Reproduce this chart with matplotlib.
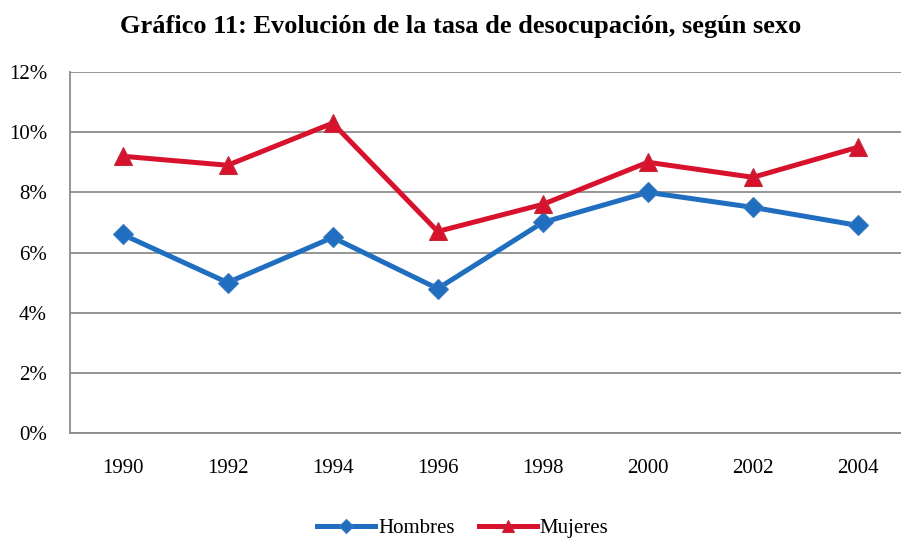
import matplotlib
matplotlib.use("Agg")
import matplotlib.pyplot as plt
from matplotlib.ticker import FuncFormatter

years = ["1990", "1992", "1994", "1996", "1998", "2000", "2002", "2004"]
hombres = [6.6, 5.0, 6.5, 4.8, 7.0, 8.0, 7.5, 6.9]
mujeres = [9.2, 8.9, 10.3, 6.7, 7.6, 9.0, 8.5, 9.5]

plt.rcParams['font.family'] = ['Liberation Serif', 'DejaVu Serif']

W, H = 901, 539
fig = plt.figure(figsize=(W/100, H/100), dpi=100)
ax = fig.add_axes([70/W, 1-433/H, (910.5-70)/W, (433-72)/H])

x = list(range(len(years)))
blue = "#1f6ebf"
red = "#d8122d"
ax.plot(x, hombres, color=blue, lw=3.6, marker="D", ms=10,
        mfc=blue, mec="#3d78c0", mew=0.8, label="Hombres", zorder=3)
ax.plot(x, mujeres, color=red, lw=3.6, marker="^", ms=13,
        mfc=red, mec="#c02a3a", mew=0.8, label="Mujeres", zorder=3)

ax.set_xlim(-0.5, len(years)-0.5)
ax.set_ylim(0, 12)
ax.set_yticks(range(0, 13, 2))
ax.yaxis.set_major_formatter(FuncFormatter(lambda v, p: f"{int(v)}%"))
ax.set_xticks(x)
ax.set_xticklabels(years)
ax.tick_params(axis="both", length=0, labelsize=15, colors="black")
ax.tick_params(axis="x", pad=19)
ax.tick_params(axis="y", pad=16.5)
ax.grid(axis="y", color="#8c8c8c", lw=1.3)
ax.set_axisbelow(True)
for s in ["top", "right"]:
    ax.spines[s].set_visible(False)
ax.spines["left"].set_color("#8c8c8c")
ax.spines["left"].set_linewidth(1.3)
ax.spines["bottom"].set_color("#8c8c8c")
ax.spines["bottom"].set_linewidth(1.3)

fig.text(461/W, 1-27/H, "Gráfico 11: Evolución de la tasa de desocupación, según sexo",
         ha="center", va="center", fontsize=19, fontweight="bold")

fig.legend(loc="center", bbox_to_anchor=(463/W, 1-528/H), ncol=2, frameon=False,
           fontsize=15, handlelength=2.75, handletextpad=0.15, columnspacing=1.2,
           markerscale=0.7)

fig.savefig("out.png", dpi=100)
